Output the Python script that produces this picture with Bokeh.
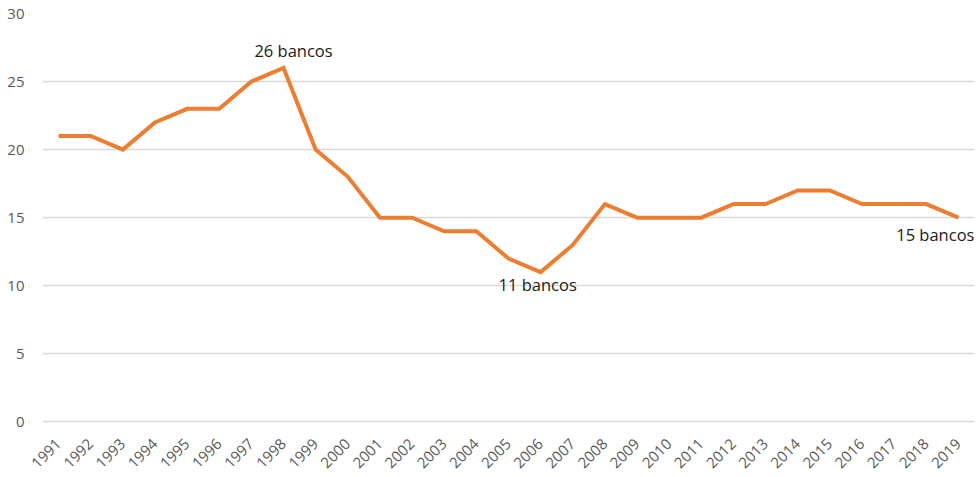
import math
from bokeh.plotting import figure
from bokeh.models import Range1d, FixedTicker
from bokeh.core.properties import value
from bokeh.embed import file_html
from bokeh.resources import INLINE

years = [str(y) for y in range(1991, 2020)]
banks = [21, 21, 20, 22, 23, 23, 25, 26, 20, 18, 15, 15, 14, 14, 12, 11, 13, 16,
         15, 15, 15, 16, 16, 17, 17, 16, 16, 16, 15]
y_ticks = [0, 5, 10, 15, 20, 25, 30]

ann_years = ["1998", "2006", "2019"]
ann_vals = [26, 11, 15]
ann_text = ["26 bancos", "11 bancos", "15 bancos"]

FONT = "Open Sans"

p = figure(x_range=years, y_range=Range1d(-0.12, 30), width=976, height=478,
           output_backend="svg", toolbar_location=None,
           min_border_left=42, min_border_right=2, min_border_top=13, min_border_bottom=55)
p.outline_line_color = None
p.background_fill_color = "white"

p.line(years, banks, line_color="#ED7D31", line_width=4, line_join="miter")

# annotations
p.text(x=[ann_years[0]], y=[ann_vals[0]], text=[ann_text[0]], text_align="center",
       text_baseline="bottom", x_offset=10, y_offset=-6, text_font=value(FONT),
       text_font_size="16.5px", text_color="#1a1a1a")
p.text(x=[ann_years[1]], y=[ann_vals[1]], text=[ann_text[1]], text_align="center",
       text_baseline="top", x_offset=-3, y_offset=1, text_font=value(FONT),
       text_font_size="16.5px", text_color="#1a1a1a")
p.text(x=[ann_years[2]], y=[ann_vals[2]], text=[ann_text[2]], text_align="right",
       text_baseline="top", x_offset=16, y_offset=5, text_font=value(FONT),
       text_font_size="16.5px", text_color="#1a1a1a")

p.yaxis.ticker = FixedTicker(ticks=y_ticks)
p.ygrid.ticker = FixedTicker(ticks=y_ticks)
p.ygrid.grid_line_color = "#d9d9d9"
p.ygrid.grid_line_width = 1.5
p.xgrid.grid_line_color = None

for ax in (p.xaxis, p.yaxis):
    ax.axis_line_color = None
    ax.major_tick_line_color = None
    ax.minor_tick_line_color = None
    ax.major_label_text_font = FONT
    ax.major_label_text_font_size = "15px"
    ax.major_label_text_color = "#595959"

p.yaxis.major_label_standoff = 12
p.xaxis.major_label_orientation = math.pi / 4
p.xaxis.major_label_standoff = 12

open("out.html", "w").write(file_html(p, INLINE))
